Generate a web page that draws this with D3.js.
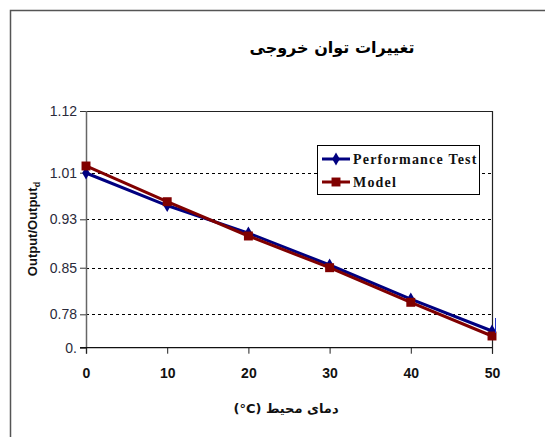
<!DOCTYPE html>
<html>
<head>
<meta charset="utf-8">
<script src="https://cdn.jsdelivr.net/npm/d3@7"></script>
<style>
  html, body { margin: 0; padding: 0; background: #fff; }
  svg { display: block; }
</style>
</head>
<body>
<svg id="chart" width="545" height="437"></svg>
<script>
// ---- data ----
const temps = [0, 10, 20, 30, 40, 50];
const performanceTest = [1.0095, 0.9567, 0.912, 0.8601, 0.8048, 0.7529];
const model = [1.0209, 0.9629, 0.9072, 0.8557, 0.7995, 0.7448];
const xTickValues = [0, 10, 20, 30, 40, 50];
const yTickValues = [0.7258, 0.78, 0.8557, 0.9343, 1.01, 1.1102];
const yTickLabels = ["0.", "0.78", "0.85", "0.93", "1.01", "1.12"];
const yDomain = [0.7258, 1.1102];
const seriesNames = ["Performance Test", "Model"];
const titleText = "تغییرات توان خروجی";
const xTitleText = "دمای محیط (\u200E°C)";

// ---- layout ----
const svg = d3.select("#chart");
const plot = { left: 86, right: 492, top: 111, bottom: 347.7 };

const x = d3.scaleLinear().domain([0, 50]).range([plot.left, plot.right]);
const y = d3.scaleLinear().domain(yDomain).range([plot.bottom, plot.top]);

// outer frame
svg.append("rect")
  .attr("x", 10.5).attr("y", 10.5)
  .attr("width", 560).attr("height", 460)
  .attr("fill", "none").attr("stroke", "#555").attr("stroke-width", 1.5);

// title
svg.append("text")
  .attr("x", 332).attr("y", 53)
  .attr("text-anchor", "middle")
  .attr("direction", "rtl")
  .attr("font-family", "'DejaVu Sans', 'Noto Sans', sans-serif")
  .attr("font-weight", "bold")
  .attr("font-size", 16)
  .attr("fill", "#000")
  .text(titleText);

// gridlines (dashed)
svg.append("g")
  .selectAll("line")
  .data(yTickValues.filter((d, i) => i > 0 && i < yTickValues.length - 1))
  .join("line")
  .attr("x1", plot.left).attr("x2", plot.right)
  .attr("y1", d => Math.round(y(d)) + 0.5).attr("y2", d => Math.round(y(d)) + 0.5)
  .attr("stroke", "#000").attr("stroke-width", 1)
  .attr("stroke-dasharray", "3,3");

// plot border top & right
svg.append("path")
  .attr("d", `M${plot.left},${plot.top + 0.5}H${plot.right + 0.5}V${plot.bottom + 6}`)
  .attr("fill", "none").attr("stroke", "#222").attr("stroke-width", 1.2);

// y axis
const yAxis = d3.axisLeft(y)
  .tickValues(yTickValues)
  .tickSize(6)
  .tickPadding(3)
  .tickFormat((d, i) => yTickLabels[i]);
const gy = svg.append("g")
  .attr("transform", `translate(${plot.left},0)`)
  .call(yAxis);
gy.select(".domain").remove();
gy.selectAll(".tick line").attr("stroke", "#333");
gy.selectAll(".tick text")
  .attr("font-family", "Arial, 'Liberation Sans', sans-serif")
  .attr("font-size", 14)
  .attr("fill", "#2a2a3a");
svg.append("line")
  .attr("x1", plot.left + 0.5).attr("x2", plot.left + 0.5)
  .attr("y1", plot.top).attr("y2", plot.bottom + 6)
  .attr("stroke", "#666").attr("stroke-width", 1.5);

// x axis
const xAxis = d3.axisBottom(x)
  .tickValues(xTickValues)
  .tickSize(6)
  .tickPadding(14)
  .tickFormat(d3.format("d"));
const gx = svg.append("g")
  .attr("transform", `translate(0,${plot.bottom})`)
  .call(xAxis);
gx.select(".domain").remove();
gx.selectAll(".tick line").attr("stroke", "#222");
gx.selectAll(".tick text")
  .attr("font-family", "Arial, 'Liberation Sans', sans-serif")
  .attr("font-size", 14)
  .attr("font-weight", "bold")
  .attr("fill", "#111");
svg.append("line")
  .attr("x1", plot.left - 6).attr("x2", plot.right)
  .attr("y1", plot.bottom).attr("y2", plot.bottom)
  .attr("stroke", "#111").attr("stroke-width", 1.2);

// series
const line = d3.line().x((d, i) => x(temps[i])).y(d => y(d));
const series = [
  { name: seriesNames[0], values: performanceTest, color: "#000080", marker: d3.symbolDiamond, size: 50 },
  { name: seriesNames[1], values: model, color: "#800000", marker: d3.symbolSquare, size: 80 }
];

series.forEach(s => {
  svg.append("path")
    .datum(s.values)
    .attr("d", line)
    .attr("fill", "none")
    .attr("stroke", s.color)
    .attr("stroke-width", 3);
  svg.append("g")
    .selectAll("path")
    .data(s.values)
    .join("path")
    .attr("transform", (d, i) => `translate(${x(temps[i])},${y(d)})`)
    .attr("d", d3.symbol().type(s.marker).size(s.size))
    .attr("fill", s.color);
});

// small blue stray line near last point (as in reference)
svg.append("line")
  .attr("x1", x(50) + 3.5).attr("x2", x(50) + 3.5)
  .attr("y1", y(performanceTest[5]) - 13).attr("y2", y(performanceTest[5]) + 2)
  .attr("stroke", "#2233cc").attr("stroke-width", 1);

// legend
const lg = svg.append("g").attr("transform", "translate(317,145)");
lg.append("rect")
  .attr("x", 0.5).attr("y", 0.5)
  .attr("width", 162).attr("height", 49)
  .attr("fill", "#fff").attr("stroke", "#000").attr("stroke-width", 1);
series.forEach((s, i) => {
  const yy = 14 + i * 23;
  lg.append("line")
    .attr("x1", 5).attr("x2", 33)
    .attr("y1", yy).attr("y2", yy)
    .attr("stroke", s.color).attr("stroke-width", 3);
  lg.append("path")
    .attr("transform", `translate(19,${yy})`)
    .attr("d", d3.symbol().type(s.marker).size(s.size))
    .attr("fill", s.color);
  lg.append("text")
    .attr("x", 36).attr("y", yy + 5)
    .attr("font-family", "'Liberation Serif', 'Times New Roman', serif")
    .attr("font-weight", "bold")
    .attr("font-size", 14)
    .attr("letter-spacing", 1.2)
    .attr("fill", "#111")
    .text(s.name);
});

// y axis title
svg.append("text")
  .attr("transform", "translate(37,229) rotate(-90)")
  .attr("text-anchor", "middle")
  .attr("font-family", "Arial, 'Liberation Sans', sans-serif")
  .attr("font-weight", "bold")
  .attr("font-size", 13)
  .attr("fill", "#111")
  .call(t => {
    t.append("tspan").text("Output/Output");
    t.append("tspan").attr("font-size", 9).attr("dy", 3).text("d");
  });

// x axis title
svg.append("text")
  .attr("x", 286).attr("y", 413)
  .attr("text-anchor", "middle")
  .attr("direction", "rtl")
  .attr("font-family", "'DejaVu Sans', 'Noto Sans', sans-serif")
  .attr("font-weight", "bold")
  .attr("font-size", 13)
  .attr("fill", "#111")
  .text(xTitleText);
</script>
</body>
</html>
